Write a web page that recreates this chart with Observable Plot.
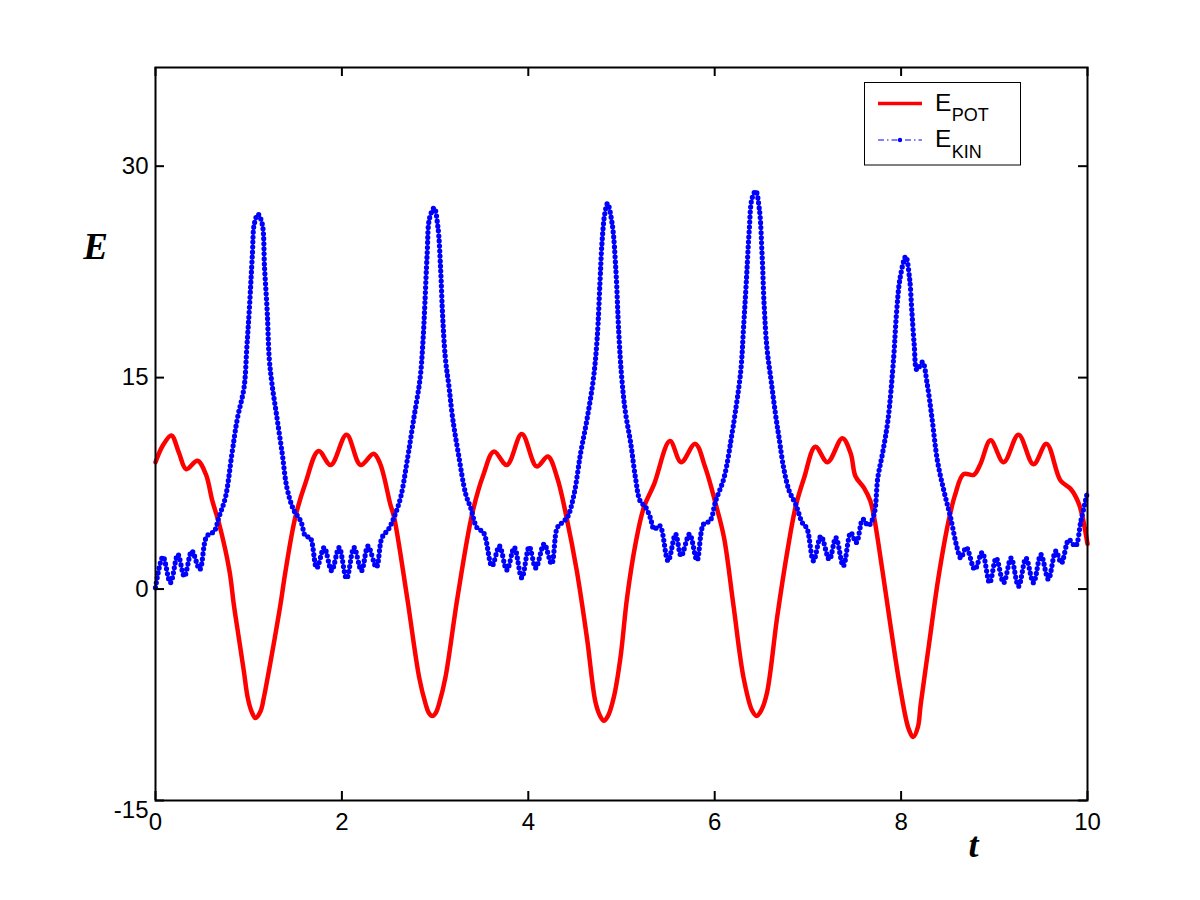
<!DOCTYPE html>
<html>
<head>
<meta charset="utf-8">
<script src="https://cdn.jsdelivr.net/npm/d3@7"></script>
<script src="https://cdn.jsdelivr.net/npm/@observablehq/plot@0.6"></script>
<style>
  html, body { margin: 0; padding: 0; background: #fff; }
</style>
</head>
<body>
<div id="chart"></div>
<script>
// ---- data ----
const tPot = [0, 0.08, 0.17, 0.25, 0.33, 0.45, 0.54, 0.61, 0.68, 0.794, 0.84, 0.894, 0.948, 0.99, 1.03, 1.073, 1.127, 1.162, 1.216, 1.28, 1.341, 1.395, 1.50, 1.61, 1.75, 1.88, 2.05, 2.20, 2.34, 2.41, 2.52, 2.56, 2.70, 2.83, 2.90, 2.93, 2.97, 3.01, 3.04, 3.11, 3.24, 3.40, 3.52, 3.63, 3.77, 3.93, 4.09, 4.21, 4.31, 4.41, 4.52, 4.63, 4.72, 4.77, 4.81, 4.855, 4.92, 4.99, 5.06, 5.15, 5.24, 5.35, 5.52, 5.64, 5.79, 5.90, 6.01, 6.10, 6.20, 6.31, 6.40, 6.45, 6.50, 6.56, 6.67, 6.78, 6.87, 6.96, 7.08, 7.21, 7.37, 7.46, 7.51, 7.60, 7.67, 7.71, 7.80, 7.89, 7.99, 8.08, 8.13, 8.18, 8.21, 8.30, 8.40, 8.51, 8.58, 8.67, 8.78, 8.85, 8.96, 9.10, 9.26, 9.42, 9.56, 9.71, 9.82, 9.91, 10.0];
const ePot = [9.0, 10.2, 10.9, 9.7, 8.5, 9.1, 8.15, 6.25, 4.7, 1.28, -1.09, -3.46, -5.83, -7.72, -8.67, -9.15, -8.67, -7.72, -5.83, -3.46, -1.09, 1.28, 5.1, 7.55, 9.8, 8.8, 10.95, 8.8, 9.6, 8.9, 6.0, 5.1, -0.6, -6.3, -8.2, -8.75, -9.0, -8.75, -8.2, -6.3, -0.6, 5.4, 8.15, 9.75, 8.8, 11.0, 8.7, 9.4, 7.9, 5.1, 1.3, -3.5, -8.0, -9.0, -9.35, -9.0, -7.6, -4.8, -0.6, 3.2, 5.8, 7.45, 10.5, 9.0, 10.3, 8.6, 6.05, 3.65, -1.1, -6.3, -8.6, -9.0, -8.6, -7.4, -2.0, 2.7, 5.9, 7.9, 10.1, 9.0, 10.7, 9.6, 8.0, 7.2, 6.25, 5.1, 1.3, -2.75, -7.0, -9.9, -10.5, -9.8, -8.2, -3.9, 0.8, 4.85, 6.7, 8.15, 8.1, 8.85, 10.55, 9.0, 10.95, 8.85, 10.3, 7.7, 7.1, 6.0, 3.2];

const tKin = [0, 0.08, 0.16, 0.24, 0.31, 0.39, 0.475, 0.55, 0.63, 0.68, 0.75, 0.82, 0.877, 0.95, 0.98, 1.01, 1.04, 1.06, 1.10, 1.145, 1.17, 1.20, 1.22, 1.25, 1.30, 1.36, 1.41, 1.48, 1.56, 1.61, 1.66, 1.73, 1.81, 1.89, 1.97, 2.05, 2.13, 2.21, 2.28, 2.37, 2.43, 2.50, 2.56, 2.63, 2.70, 2.77, 2.84, 2.87, 2.89, 2.915, 2.94, 2.99, 3.03, 3.06, 3.08, 3.11, 3.15, 3.19, 3.25, 3.33, 3.38, 3.45, 3.52, 3.61, 3.69, 3.77, 3.85, 3.93, 4.01, 4.08, 4.17, 4.25, 4.31, 4.36, 4.42, 4.49, 4.56, 4.63, 4.70, 4.74, 4.77, 4.79, 4.82, 4.85, 4.90, 4.94, 4.97, 5.00, 5.04, 5.10, 5.15, 5.20, 5.26, 5.31, 5.35, 5.41, 5.50, 5.58, 5.64, 5.73, 5.81, 5.88, 5.95, 6.01, 6.10, 6.19, 6.21, 6.28, 6.31, 6.34, 6.37, 6.40, 6.44, 6.48, 6.51, 6.53, 6.56, 6.61, 6.66, 6.69, 6.74, 6.80, 6.87, 6.94, 6.99, 7.06, 7.14, 7.23, 7.30, 7.38, 7.46, 7.52, 7.59, 7.65, 7.71, 7.75, 7.80, 7.86, 7.92, 7.95, 7.99, 8.05, 8.09, 8.115, 8.14, 8.17, 8.23, 8.28, 8.33, 8.39, 8.46, 8.53, 8.60, 8.64, 8.70, 8.79, 8.87, 8.95, 9.02, 9.10, 9.18, 9.26, 9.34, 9.42, 9.50, 9.58, 9.66, 9.72, 9.80, 9.87, 9.93, 10.0];
const eKin = [0.1, 2.3, 0.45, 2.45, 0.9, 2.7, 1.4, 3.75, 4.1, 5.1, 6.5, 9.6, 12.05, 14.3, 17.15, 20.2, 23.8, 25.9, 26.6, 25.9, 22.8, 19.5, 16.4, 14.55, 12.3, 9.6, 7.2, 5.65, 4.8, 3.75, 3.65, 1.5, 2.95, 1.3, 2.95, 0.75, 2.95, 1.3, 3.05, 1.55, 3.65, 4.25, 5.1, 6.5, 9.1, 12.05, 15.0, 17.6, 20.2, 23.8, 26.3, 27.05, 25.7, 22.6, 19.5, 16.4, 14.3, 12.05, 9.6, 6.7, 5.8, 4.35, 4.0, 1.65, 3.05, 1.35, 2.95, 0.8, 3.0, 1.5, 3.2, 1.8, 4.35, 4.7, 5.1, 6.7, 9.6, 12.05, 15.0, 17.9, 21.9, 24.5, 26.6, 27.35, 25.9, 22.6, 18.3, 15.2, 12.65, 10.3, 7.9, 6.25, 5.8, 5.05, 4.25, 4.5, 2.0, 3.9, 2.35, 3.9, 2.05, 4.6, 4.85, 6.25, 7.9, 11.2, 12.05, 15.5, 18.6, 21.9, 25.4, 27.7, 28.25, 26.9, 23.5, 20.2, 17.15, 14.55, 12.05, 10.75, 8.6, 6.95, 6.0, 4.7, 4.3, 2.0, 3.75, 2.1, 3.65, 1.65, 4.0, 3.3, 4.95, 4.5, 5.3, 7.9, 9.6, 12.05, 16.4, 19.5, 22.1, 23.6, 22.1, 19.75, 17.4, 15.55, 16.1, 14.55, 12.2, 9.1, 6.95, 5.1, 2.95, 2.2, 2.95, 1.4, 2.6, 0.45, 2.2, 0.45, 2.2, 0.2, 2.2, 0.45, 2.45, 0.7, 2.7, 1.85, 3.5, 3.05, 4.85, 6.9];

const xTicks = [0, 2, 4, 6, 8, 10];
const yTicks = [-15, 0, 15, 30];
const xDomain = [0, 10];
const yDomain = [-15, 37];
const seriesNames = ["POT", "KIN"];

// ---- build tables ----
const pot = tPot.map((t, i) => ({t, e: ePot[i]}));
const kin = tKin.map((t, i) => ({t, e: eKin[i]}));

const W = 1200, H = 900, mL = 155, mR = 113, mT = 67, mB = 100;
const innerW = W - mL - mR, innerH = H - mT - mB;
const tick = 9;
const fmt = d => String(d); // hyphen-minus like the reference

const svg = Plot.plot({
  width: W, height: H,
  marginLeft: mL, marginRight: mR, marginTop: mT, marginBottom: mB,
  x: {domain: xDomain, label: null},
  y: {domain: yDomain, label: null},
  style: {fontFamily: "Liberation Sans, Arial, sans-serif", background: "#fff", color: "#000", overflow: "visible"},
  marks: [
    Plot.line(pot, {x: "t", y: "e", stroke: "#ff0000", strokeWidth: 4.5, curve: "catmull-rom"}),
    Plot.line(kin, {x: "t", y: "e", stroke: "#0000ff", strokeWidth: 1.4, strokeDasharray: "7,3,1.5,3", curve: "catmull-rom"}),
    Plot.line(kin, {x: "t", y: "e", stroke: "#0000ff", strokeWidth: 5.2, strokeDasharray: "0,5", strokeLinecap: "round", curve: "catmull-rom"}),
    // inward ticks on all four sides
    Plot.tickY(yTicks, {y: d => d, insetRight: innerW - tick, stroke: "#000", strokeWidth: 2}),
    Plot.tickY(yTicks, {y: d => d, insetLeft: innerW - tick, stroke: "#000", strokeWidth: 2}),
    Plot.tickX(xTicks, {x: d => d, insetTop: innerH - tick, stroke: "#000", strokeWidth: 2}),
    Plot.tickX(xTicks, {x: d => d, insetBottom: innerH - tick, stroke: "#000", strokeWidth: 2}),
    Plot.frame({stroke: "#000", strokeWidth: 2}),
    Plot.axisX({ticks: xTicks, tickFormat: fmt, tickSize: 0, tickPadding: 12, fontSize: 24, label: null}),
    Plot.axisY({ticks: yTicks.filter(v => v !== -15), tickFormat: fmt, tickSize: 0, tickPadding: 7, fontSize: 24, label: null}),
    Plot.axisY({ticks: yTicks.filter(v => v === -15), tickFormat: fmt, tickSize: 0, tickPadding: 7, fontSize: 24, dy: 10, label: null}),
    Plot.text(["E"], {frameAnchor: "top-left", dx: -60, dy: 180, text: d => d, fontSize: 37, fontWeight: "bold", fontStyle: "italic", fontFamily: "Liberation Serif, Times New Roman, serif", textAnchor: "middle", lineAnchor: "middle"}),
    Plot.text(["t"], {frameAnchor: "bottom", dx: 352, dy: 45, text: d => d, fontSize: 36, fontWeight: "bold", fontStyle: "italic", fontFamily: "Liberation Serif, Times New Roman, serif", textAnchor: "middle", lineAnchor: "middle"})
  ]
});

// ---- legend inside the axes (top right) ----
const g = d3.select(svg).append("g")
  .attr("font-family", "Liberation Sans, Arial, sans-serif")
  .attr("text-anchor", "start");
g.append("rect").attr("x", 864.5).attr("y", 82.5).attr("width", 156).attr("height", 82.5)
  .attr("fill", "#fff").attr("stroke", "#000").attr("stroke-width", 1);
g.append("line").attr("x1", 878).attr("x2", 922).attr("y1", 103.5).attr("y2", 103.5)
  .attr("stroke", "#ff0000").attr("stroke-width", 3.5);
g.append("line").attr("x1", 878).attr("x2", 922).attr("y1", 140).attr("y2", 140)
  .attr("stroke", "#0000ff").attr("stroke-width", 1).attr("stroke-dasharray", "6,3,1.5,3");
g.append("circle").attr("cx", 900).attr("cy", 140).attr("r", 2.2).attr("fill", "#0000ff");
const rows = [{y: 110.5, sub: seriesNames[0]}, {y: 147, sub: seriesNames[1]}];
rows.forEach(r => {
  const tx = g.append("text").attr("x", 935).attr("y", r.y).attr("font-size", 24.5)
    .attr("fill", "#000").attr("text-anchor", "start");
  tx.append("tspan").text("E");
  tx.append("tspan").attr("dy", 10.5).attr("dx", 0.5).attr("font-size", 18).text(r.sub);
});

document.getElementById("chart").appendChild(svg);
</script>
</body>
</html>
